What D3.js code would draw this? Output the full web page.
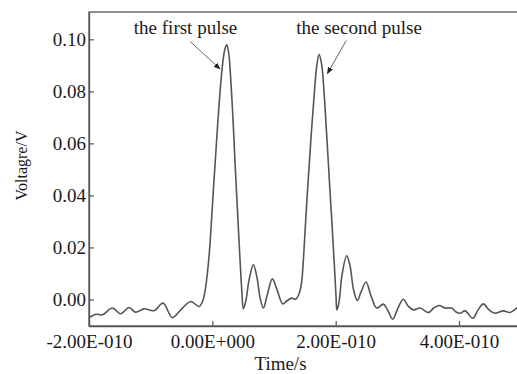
<!DOCTYPE html>
<html>
<head>
<meta charset="utf-8">
<script src="https://cdn.jsdelivr.net/npm/d3@7"></script>
<style>
  html, body { margin: 0; padding: 0; background: #fff; }
  svg { display: block; }
  text { font-family: "Liberation Serif", "Times New Roman", serif; fill: #1a1a1a; }
</style>
</head>
<body>
<svg id="chart" width="517" height="374"></svg>
<script>
// Time in picoseconds
const timePs = [
  -200, -197.2, -189.1, -178.4, -162.2, -148.5, -135.1, -124.2, -110.8, -94.5,
  -79.9, -64.9, -51.2, -35.0, -21.6, -15.1, -11.0, -7.8, -4.5, -1.3,
  1.9, 5.2, 8.4, 12.5, 16.5, 20.1, 23.4, 26.6, 29.8, 34.1,
  36.8, 39.6, 42.2, 44.9, 47.7, 50.3, 54.6, 59.5, 66.5, 72.5,
  77.4, 82.7, 88.7, 97.3, 104.9, 114.2, 121.1, 128.8, 135.2, 140.6,
  144.6, 147.6, 150.3, 153.6, 157.3, 160.9, 164.9, 169.0, 173.0, 177.1,
  181.6, 184.9, 188.1, 191.3, 194.6, 197.8, 200.6, 201.9, 205.5, 210.3,
  217.9, 223.3, 229.0, 235.1, 241.1, 249.2, 257.3, 266.6, 277.3, 284.1,
  292.5, 301.1, 309.7, 317.4, 325.9, 336.8, 350.3, 359.5, 368.1, 377.3,
  388.2, 395.2, 401.7, 409.8, 422.3, 430.9, 439.5, 448.7, 458.4, 471.9,
  482.8, 493.6, 500
];
// Measured voltage in volts
const voltage = [
  -0.0067, -0.0066, -0.0057, -0.0059, -0.0033, -0.0055, -0.0031, -0.0049, -0.0036, -0.0043,
  -0.0014, -0.0070, -0.0040, -0.0008, -0.0027, -0.0002, 0.0045, 0.0106, 0.0191, 0.0306,
  0.0429, 0.0548, 0.0664, 0.0798, 0.0902, 0.0960, 0.0979, 0.0945, 0.0848, 0.0664,
  0.0525, 0.0395, 0.0275, 0.0152, 0.0037, -0.0036, -0.0002, 0.0075, 0.0133, 0.0083,
  0.0006, -0.0033, 0.0014, 0.0079, 0.0037, -0.0017, -0.0005, 0.0005, 0.0001, 0.0022,
  0.0064, 0.0152, 0.0260, 0.0391, 0.0525, 0.0652, 0.0779, 0.0891, 0.0941, 0.0906,
  0.0779, 0.0652, 0.0525, 0.0395, 0.0268, 0.0133, 0.0010, -0.0040, -0.0009, 0.0095,
  0.0168, 0.0129, 0.0037, -0.0004, 0.0029, 0.0067, 0.0014, -0.0033, -0.0018, -0.0040,
  -0.0076, -0.0032, 0.0001, -0.0025, -0.0040, -0.0033, -0.0050, -0.0032, -0.0023, -0.0033,
  -0.0033, -0.0048, -0.0053, -0.0044, -0.0072, -0.0040, -0.0017, -0.0040, -0.0053, -0.0044,
  -0.0050, -0.0033, -0.0021
];
// Axis ticks
const xTicksPs = [-200, 0, 200, 400];
const xTickLabels = ["-2.00E-010", "0.00E+000", "2.00E-010", "4.00E-010"];
const yTicks = [0.00, 0.02, 0.04, 0.06, 0.08, 0.10];
const yTickLabels = ["0.00", "0.02", "0.04", "0.06", "0.08", "0.10"];
// Pulse annotations: arrow tip at (time, voltage)
const annotationLabels = ["the first pulse", "the second pulse"];
const annotationTimePs = [12.5, 186.5];
const annotationVolt = [0.0886, 0.0868];

const svg = d3.select("#chart");
const plotLeft = 89, plotTop = 12, plotBottom = 326, plotRight = 520.7;
const axisColor = "#555";

const x = d3.scaleLinear().domain([-200, 500]).range([plotLeft, plotRight]);
const y = d3.scaleLinear().domain([-0.0102, 0.1105]).range([plotBottom, plotTop]);

// Frame
svg.append("rect")
  .attr("x", plotLeft).attr("y", plotTop)
  .attr("width", plotRight - plotLeft).attr("height", plotBottom - plotTop)
  .attr("fill", "none").attr("stroke", axisColor).attr("stroke-width", 1.3);

// Axes with inward ticks
const xAxis = d3.axisBottom(x).tickValues(xTicksPs)
  .tickFormat((d, i) => xTickLabels[i]).tickSizeInner(-5).tickSizeOuter(0).tickPadding(9);
const gx = svg.append("g").attr("transform", `translate(0,${plotBottom})`).call(xAxis);
const yAxis = d3.axisLeft(y).tickValues(yTicks)
  .tickFormat((d, i) => yTickLabels[i]).tickSizeInner(-5).tickSizeOuter(0).tickPadding(3);
const gy = svg.append("g").attr("transform", `translate(${plotLeft},0)`).call(yAxis);

[gx, gy].forEach(g => {
  g.select(".domain").attr("stroke", axisColor).attr("stroke-width", 1.3);
  g.selectAll(".tick line").attr("stroke", axisColor).attr("stroke-width", 1.2);
  g.selectAll(".tick text")
    .attr("font-family", "'Liberation Serif', 'Times New Roman', serif")
    .attr("font-size", 19).attr("fill", "#1a1a1a");
});
gx.selectAll(".tick text").attr("dy", "0.71em");

// Signal trace
const pts = timePs.map((t, i) => [t, voltage[i]]);
const defs = svg.append("defs");
defs.append("clipPath").attr("id", "plotClip")
  .append("rect").attr("x", plotLeft).attr("y", plotTop)
  .attr("width", plotRight - plotLeft).attr("height", plotBottom - plotTop);
svg.append("path")
  .datum(pts)
  .attr("clip-path", "url(#plotClip)")
  .attr("fill", "none")
  .attr("stroke", "#555")
  .attr("stroke-width", 1.6)
  .attr("d", d3.line().x(d => x(d[0])).y(d => y(d[1])).curve(d3.curveCatmullRom.alpha(0.5)));

// Arrow marker
defs.append("marker")
  .attr("id", "arrowHead").attr("viewBox", "0 0 10 10")
  .attr("refX", 9).attr("refY", 5)
  .attr("markerWidth", 7).attr("markerHeight", 7)
  .attr("markerUnits", "userSpaceOnUse")
  .attr("orient", "auto")
  .append("path").attr("d", "M0,1 L10,5 L0,9 Z").attr("fill", "#222");

// Annotations
const arrowStart = [[-30, -27.6], [19, -33.3]];
const textOffset = [[-34.5, -35.3], [31.7, -40]];
annotationLabels.forEach((label, i) => {
  const tx = x(annotationTimePs[i]), ty = y(annotationVolt[i]);
  svg.append("line")
    .attr("x1", tx + arrowStart[i][0]).attr("y1", ty + arrowStart[i][1])
    .attr("x2", tx).attr("y2", ty)
    .attr("stroke", "#666").attr("stroke-width", 1)
    .attr("marker-end", "url(#arrowHead)");
  svg.append("text")
    .attr("x", tx + textOffset[i][0]).attr("y", ty + textOffset[i][1])
    .attr("text-anchor", "middle").attr("font-size", 19)
    .text(label);
});

// Axis titles
svg.append("text")
  .attr("x", 280.5).attr("y", 370)
  .attr("text-anchor", "middle").attr("font-size", 19)
  .text("Time/s");
svg.append("text")
  .attr("transform", "translate(26.5,165.5) rotate(-90)")
  .attr("text-anchor", "middle").attr("font-size", 16)
  .text("Voltagre/V");
</script>
</body>
</html>
